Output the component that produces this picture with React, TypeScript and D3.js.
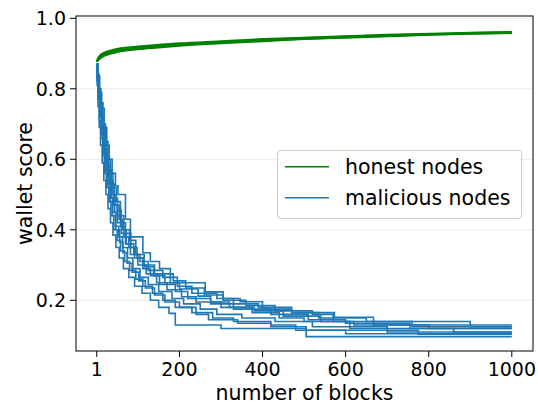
import * as d3 from "d3";

type Pt = [number, number];

// honest nodes: a few runs that stay tightly bundled
const honestRuns: Pt[][] = [
  [[1, 0.877], [5, 0.889], [10, 0.896], [20, 0.903], [35, 0.909], [50, 0.913], [75, 0.917], [100, 0.920], [150, 0.925], [200, 0.929], [300, 0.935], [400, 0.941], [500, 0.945], [600, 0.949], [700, 0.953], [800, 0.956], [900, 0.959], [1000, 0.961]],
  [[1, 0.877], [5, 0.886], [10, 0.892], [20, 0.899], [35, 0.905], [50, 0.909], [75, 0.913], [100, 0.916], [150, 0.921], [200, 0.926], [300, 0.933], [400, 0.939], [500, 0.944], [600, 0.948], [700, 0.952], [800, 0.955], [900, 0.958], [1000, 0.960]],
  [[1, 0.877], [5, 0.882], [10, 0.887], [20, 0.894], [35, 0.900], [50, 0.904], [75, 0.909], [100, 0.912], [150, 0.917], [200, 0.922], [300, 0.929], [400, 0.935], [500, 0.941], [600, 0.945], [700, 0.949], [800, 0.953], [900, 0.956], [1000, 0.958]],
  [[1, 0.877], [5, 0.884], [10, 0.890], [20, 0.897], [35, 0.903], [50, 0.907], [75, 0.911], [100, 0.914], [150, 0.919], [200, 0.924], [300, 0.931], [400, 0.937], [500, 0.942], [600, 0.946], [700, 0.950], [800, 0.954], [900, 0.957], [1000, 0.959]],
];

// malicious nodes: step runs (value holds until the next block)
const maliciousRuns: Pt[][] = [
  [[1, .870], [4, .835], [8, .790], [13, .745], [19, .690], [25, .640], [31, .600], [38, .560], [46, .525], [52, .500], [70, .430], [82, .380], [112, .335], [130, .310], [152, .290], [178, .250], [262, .224], [305, .205], [346, .196], [400, .175], [470, .165], [573, .152], [667, .130]],
  [[1, .870], [3, .840], [7, .800], [11, .760], [16, .700], [22, .650], [28, .600], [34, .560], [40, .520], [48, .480], [58, .440], [66, .400], [80, .370], [95, .330], [115, .300], [140, .275], [185, .255], [215, .235], [260, .215], [305, .200], [360, .185], [430, .170], [520, .160], [570, .140], [760, .125]],
  [[1, .870], [3, .830], [6, .780], [10, .730], [15, .680], [20, .630], [26, .580], [33, .540], [40, .500], [45, .470], [55, .430], [62, .400], [72, .360], [90, .330], [105, .310], [125, .285], [160, .265], [195, .240], [230, .220], [290, .205], [330, .190], [390, .180], [470, .165], [535, .150], [650, .140], [900, .125]],
  [[1, .870], [2, .840], [5, .790], [9, .740], [13, .700], [18, .650], [23, .600], [29, .550], [34, .510], [42, .470], [50, .440], [58, .410], [66, .380], [78, .350], [92, .320], [112, .290], [130, .270], [152, .245], [190, .225], [220, .205], [275, .190], [330, .175], [420, .160], [510, .145], [600, .135], [755, .120]],
  [[1, .870], [3, .820], [6, .770], [10, .720], [14, .670], [19, .620], [25, .570], [31, .530], [37, .490], [44, .450], [51, .420], [60, .390], [70, .360], [82, .330], [100, .300], [120, .275], [145, .250], [170, .230], [205, .210], [240, .195], [300, .180], [375, .165], [440, .150], [500, .140], [610, .120], [860, .110]],
  [[1, .870], [2, .830], [4, .780], [8, .730], [12, .680], [16, .630], [21, .580], [27, .530], [33, .490], [39, .450], [46, .410], [54, .380], [63, .350], [75, .320], [88, .290], [105, .265], [125, .245], [150, .225], [182, .205], [210, .190], [250, .175], [290, .160], [350, .150], [430, .140], [520, .125], [700, .110]],
  [[1, .870], [2, .820], [4, .770], [7, .710], [11, .660], [15, .610], [19, .560], [24, .520], [30, .480], [35, .440], [42, .400], [50, .370], [58, .340], [68, .310], [80, .285], [95, .260], [112, .240], [135, .220], [160, .200], [190, .180], [230, .165], [280, .150], [330, .140], [420, .130], [480, .115], [600, .105]],
  [[1, .870], [2, .810], [4, .750], [7, .690], [10, .640], [14, .590], [18, .540], [23, .500], [28, .460], [34, .420], [40, .385], [47, .350], [55, .320], [65, .290], [78, .265], [92, .240], [110, .220], [130, .200], [150, .180], [175, .163], [190, .130], [300, .120], [505, .097]],
  [[1, .870], [3, .825], [5, .780], [9, .720], [13, .670], [17, .615], [22, .565], [28, .520], [33, .480], [39, .440], [47, .400], [56, .365], [64, .335], [74, .305], [86, .280], [102, .255], [118, .235], [140, .215], [165, .195], [200, .180], [240, .160], [270, .145], [340, .135], [420, .125], [505, .115], [775, .104]],
  [[1, .870], [2, .845], [5, .800], [9, .750], [14, .700], [19, .660], [24, .610], [30, .570], [36, .530], [43, .490], [51, .455], [60, .420], [70, .390], [83, .350], [98, .320], [115, .295], [138, .270], [165, .250], [200, .232], [245, .212], [275, .195], [320, .180], [380, .170], [450, .155], [540, .140], [620, .130], [800, .120]],
];

const lastBlock = 1000;
const xTicks = [1, 200, 400, 600, 800, 1000];
const yTicks = [0.2, 0.4, 0.6, 0.8, 1.0];
const legendItems = [
  { label: "honest nodes", color: "#008000" },
  { label: "malicious nodes", color: "#1f77b4" },
];

const W = 538;
const H = 405;
const L = 76, R = 533, T = 16, B = 351;
const FONT = "'DejaVu Sans', sans-serif";
const TICK_FS = 19;
const LABEL_FS = 20.5;

export default function App() {
  const x = d3.scaleLinear().domain([-49, 1051]).range([L, R]);
  const y = d3.scaleLinear().domain([0.0562, 1.0065]).range([B, T]);

  const smooth = d3.line<Pt>().x(d => x(d[0])).y(d => y(d[1])).curve(d3.curveMonotoneX);
  const step = d3.line<Pt>().x(d => x(d[0])).y(d => y(d[1])).curve(d3.curveStepAfter);

  const extend = (run: Pt[]): Pt[] => [...run, [lastBlock, run[run.length - 1][1]]];

  return (
    <svg width={W} height={H} style={{ position: "absolute", left: 0, top: 0, background: "white" }} fontFamily={FONT}>
      <defs>
        <clipPath id="plot"><rect x={L} y={T} width={R - L} height={B - T} /></clipPath>
      </defs>

      {/* grid */}
      {yTicks.map(t => (
        <line key={t} x1={L} x2={R} y1={y(t)} y2={y(t)} stroke="#ebebeb" strokeWidth={1} />
      ))}

      <g clipPath="url(#plot)" fill="none">
        {honestRuns.map((run, i) => (
          <path key={"h" + i} d={smooth(run) ?? ""} stroke="#008000" strokeWidth={2} />
        ))}
        {maliciousRuns.map((run, i) => (
          <path key={"m" + i} d={step(extend(run)) ?? ""} stroke="#1f77b4" strokeWidth={1.6} />
        ))}
      </g>

      {/* frame */}
      <rect x={L} y={T} width={R - L} height={B - T} fill="none" stroke="black" strokeWidth={1} />

      {/* x axis */}
      {xTicks.map(t => (
        <g key={t}>
          <line x1={x(t)} x2={x(t)} y1={B} y2={B + 6} stroke="black" strokeWidth={1} />
          <text x={x(t)} y={376} textAnchor="middle" fontSize={TICK_FS}>{t}</text>
        </g>
      ))}
      <text x={(L + R) / 2} y={400} textAnchor="middle" fontSize={LABEL_FS}>number of blocks</text>

      {/* y axis */}
      {yTicks.map(t => (
        <g key={t}>
          <line x1={L - 6} x2={L} y1={y(t)} y2={y(t)} stroke="black" strokeWidth={1} />
          <text x={66} y={y(t)} textAnchor="end" dominantBaseline="central" fontSize={TICK_FS}>{t.toFixed(1)}</text>
        </g>
      ))}
      <text transform={`translate(32,${(T + B) / 2}) rotate(-90)`} textAnchor="middle" fontSize={LABEL_FS}>wallet score</text>

      {/* legend */}
      <rect x={277.5} y={150.5} width={244} height={68} rx={3} fill="white" fillOpacity={0.8} stroke="#cccccc" strokeWidth={1} />
      {legendItems.map((item, i) => (
        <g key={item.label}>
          <line x1={285} x2={329} y1={166.7 + i * 31} y2={166.7 + i * 31} stroke={item.color} strokeWidth={1.6} />
          <text x={345} y={174 + i * 31} fontSize={LABEL_FS}>{item.label}</text>
        </g>
      ))}
    </svg>
  );
}
